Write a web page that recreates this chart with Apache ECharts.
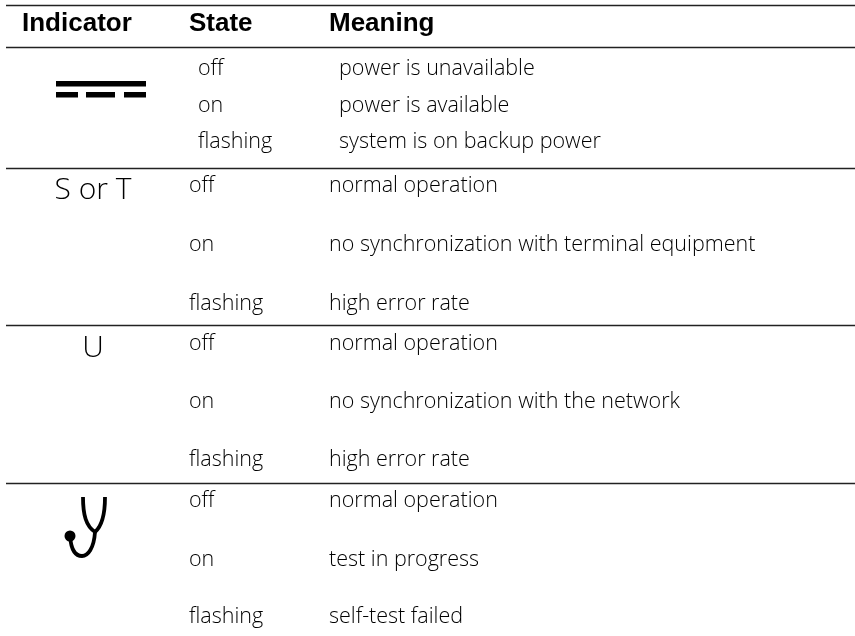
<!DOCTYPE html>
<html>
<head>
<meta charset="utf-8">
<style>
html, body { margin: 0; padding: 0; background: #fff; }
#main { width: 855px; height: 636px; }
</style>
</head>
<body>
<div id="main"></div>
<script src="https://cdn.jsdelivr.net/npm/echarts@6/dist/echarts.min.js"></script>
<script>
var headers = ['Indicator', 'State', 'Meaning'];
var indicators = ['', 'S or T', 'U', ''];
var states = ['off', 'on', 'flashing'];
var meanings = [
	['power is unavailable', 'power is available', 'system is on backup power'],
	['normal operation', 'no synchronization with terminal equipment', 'high error rate'],
	['normal operation', 'no synchronization with the network', 'high error rate'],
	['normal operation', 'test in progress', 'self-test failed']
];

// layout, in pixels
var ruleY = [5, 47, 168, 325, 483];
var rowY = [
	[69, 106, 142],
	[186, 245, 304],
	[344, 402, 460],
	[501, 560, 617]
];
var stateX = [198, 189, 189, 189];
var meanX = [339, 329, 329, 329];
var indY = [0, 187, 345, 0];
var lightFont = '"Open Sans"';

var els = [];
ruleY.forEach(function(y) {
	els.push({ type: 'line', shape: { x1: 6, y1: y + 0.5, x2: 855, y2: y + 0.5 }, style: { stroke: '#222', lineWidth: 1.5 } });
});

function txt(s, x, y, size, weight, family, align) {
	els.push({ type: 'text', x: x, y: y, style: {
		text: s, fontSize: size, fontWeight: weight, fontFamily: family,
		fill: '#000', textAlign: align || 'left', textVerticalAlign: 'middle'
	} });
}

txt(headers[0], 22, 24, 26, 700, '"Liberation Sans"');
txt(headers[1], 189, 24, 26, 700, '"Liberation Sans"');
txt(headers[2], 329, 24, 26, 700, '"Liberation Sans"');

rowY.forEach(function(ys, g) {
	ys.forEach(function(y, r) {
		txt(states[r], stateX[g], y, 21.5, 300, lightFont);
		txt(meanings[g][r], meanX[g], y, 21.5, 300, lightFont);
	});
	if (indicators[g]) txt(indicators[g], 93, indY[g] + 3, 30, 300, lightFont, 'center');
});

// DC power symbol
[[56, 81, 90, 5.5], [56, 92, 22, 5.5], [86, 92, 29, 5.5], [124, 92, 22, 5.5]].forEach(function(b) {
	els.push({ type: 'rect', shape: { x: b[0], y: b[1], width: b[2], height: b[3] }, style: { fill: '#000' } });
});

// loopback symbol
var loopStyle = { stroke: '#000', fill: null, lineWidth: 3.8 };
els.push({ type: 'bezierCurve', shape: { x1: 83, y1: 497, cpx1: 83, cpy1: 515, cpx2: 86, cpy2: 526, x2: 95, y2: 532 }, style: loopStyle });
els.push({ type: 'bezierCurve', shape: { x1: 105, y1: 497, cpx1: 105, cpy1: 515, cpx2: 102, cpy2: 526, x2: 95, y2: 532 }, style: loopStyle });
els.push({ type: 'bezierCurve', shape: { x1: 95, y1: 532, cpx1: 94, cpy1: 548, cpx2: 88, cpy2: 556, x2: 82, y2: 556 }, style: loopStyle });
els.push({ type: 'bezierCurve', shape: { x1: 82, y1: 556, cpx1: 75, cpy1: 556, cpx2: 71, cpy2: 549, x2: 70, y2: 536 }, style: loopStyle });
els.push({ type: 'circle', shape: { cx: 70, cy: 536, r: 5.5 }, style: { fill: '#000' } });

var chart = echarts.init(document.getElementById('main'), null, { renderer: 'canvas' });
chart.setOption({ animation: false, backgroundColor: '#fff', graphic: { elements: els } });
</script>
</body>
</html>
